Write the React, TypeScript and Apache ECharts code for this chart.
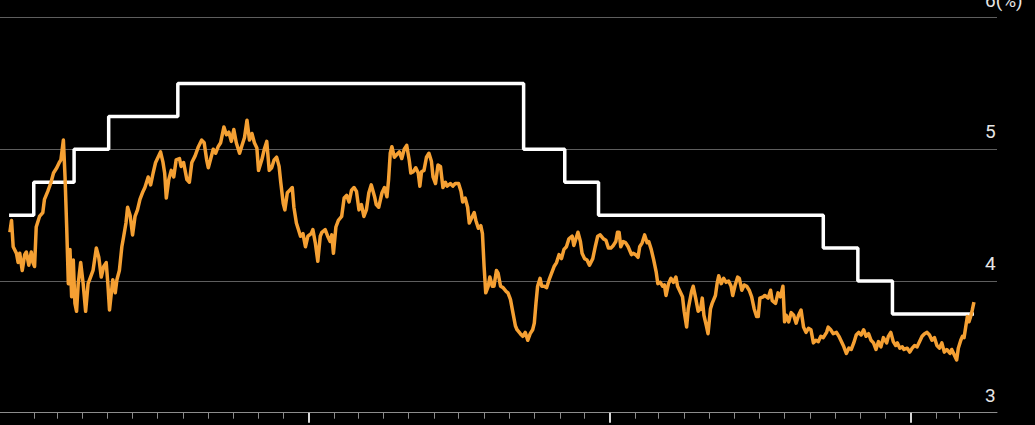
import { useEffect, useRef } from "react";
import * as echarts from "echarts";

// ---- data ----
// Policy rate (upper bound, %) with effective dates; held until the next change
const policyDates = ["2023-01-02", "2023-02-01", "2023-03-22", "2023-05-03", "2023-07-26", "2024-09-18", "2024-11-07", "2024-12-18", "2025-09-17", "2025-10-29", "2025-12-10", "2026-03-19"];
const policyRates = [4.5, 4.75, 5.0, 5.25, 5.5, 5.0, 4.75, 4.5, 4.25, 4.0, 3.75, 3.75];

// Two-year yield (%): [days since 2023-01-01, value]
const yield2023: [number, number][] = [
  [2, 4.37], [4, 4.46], [6, 4.26], [10, 4.21], [12, 4.14], [14, 4.21], [17, 4.08], [20, 4.2], [22, 4.22], [25, 4.12],
  [28, 4.22], [30, 4.14], [32, 4.11], [34, 4.41], [38, 4.49], [42, 4.52], [44, 4.62], [48, 4.68], [52, 4.75], [55, 4.82],
  [59, 4.86], [62, 4.9], [64, 4.92], [67, 5.07], [69, 4.79], [71, 4.41], [73, 3.98], [75, 4.24], [77, 3.88], [79, 4.16],
  [81, 3.83], [83, 3.77], [85, 3.98], [88, 4.14], [91, 3.98], [94, 3.77], [97, 3.98], [100, 4.03], [103, 4.08], [107, 4.25],
  [110, 4.18], [113, 4.03], [116, 4.11], [119, 4.14], [121, 3.98], [123, 3.78], [127, 4.01], [130, 3.91], [132, 4.01], [135, 4.08],
  [138, 4.26], [140, 4.33], [143, 4.44], [145, 4.56], [148, 4.5], [151, 4.35], [154, 4.49], [157, 4.54], [160, 4.62], [163, 4.67],
  [166, 4.71], [170, 4.79], [173, 4.73], [176, 4.82], [179, 4.9], [182, 4.94], [185, 4.98], [188, 4.9], [190, 4.82], [192, 4.63],
  [195, 4.77], [198, 4.84], [201, 4.79], [204, 4.92], [208, 4.93], [210, 4.87], [213, 4.9], [217, 4.77], [220, 4.75], [223, 4.9],
  [227, 4.95], [231, 5.02], [235, 5.07], [238, 5.05], [241, 4.92], [243, 4.86], [246, 4.93], [249, 5.0], [252, 4.97], [255, 5.02],
  [258, 5.05], [262, 5.17], [265, 5.11], [268, 5.13], [271, 5.06], [274, 5.15], [277, 5.05], [281, 4.97], [284, 5.03], [287, 5.09],
  [290, 5.22], [293, 5.07], [296, 5.12], [299, 5.05], [302, 5.01], [304, 4.84], [308, 4.92], [311, 5.0], [314, 5.06], [317, 4.84],
  [320, 4.86], [323, 4.92], [326, 4.94], [329, 4.87], [331, 4.75], [334, 4.59], [336, 4.54], [339, 4.67], [342, 4.69], [345, 4.71],
  [347, 4.56], [350, 4.44], [352, 4.4], [355, 4.34], [358, 4.36], [361, 4.26], [364, 4.34],
];
const yield2024: [number, number][] = [
  [368, 4.36], [370, 4.39], [373, 4.29], [376, 4.15], [379, 4.34], [381, 4.37], [385, 4.39], [388, 4.34], [391, 4.3], [393, 4.35],
  [395, 4.21], [398, 4.41], [401, 4.46], [405, 4.49], [408, 4.63], [411, 4.65], [414, 4.6], [417, 4.69], [420, 4.71], [423, 4.68],
  [426, 4.54], [429, 4.58], [432, 4.49], [435, 4.54], [438, 4.67], [441, 4.73], [445, 4.64], [447, 4.58], [450, 4.56], [454, 4.67],
  [457, 4.71], [460, 4.64], [462, 4.77], [464, 4.97], [466, 5.02], [469, 4.94], [472, 4.96], [475, 4.98], [478, 4.93], [481, 5.0],
  [484, 5.03], [487, 4.92], [489, 4.82], [492, 4.83], [495, 4.86], [498, 4.82], [500, 4.72], [502, 4.83], [505, 4.84], [508, 4.94],
  [511, 4.97], [514, 4.91], [516, 4.79], [519, 4.74], [522, 4.88], [525, 4.87], [528, 4.71], [531, 4.75], [533, 4.72], [537, 4.74],
  [540, 4.72], [543, 4.74], [547, 4.74], [550, 4.68], [552, 4.6], [555, 4.63], [558, 4.56], [560, 4.44], [563, 4.48], [566, 4.52],
  [568, 4.46], [571, 4.4], [574, 4.42], [576, 4.36], [578, 4.11], [580, 3.91], [583, 3.96], [585, 4.03], [588, 3.96], [590, 3.96],
  [593, 4.08], [595, 4.06], [598, 3.96], [601, 3.95], [605, 3.92], [607, 3.91], [610, 3.86], [613, 3.76], [616, 3.66], [618, 3.63],
  [622, 3.6], [625, 3.58], [628, 3.61], [631, 3.55], [634, 3.6], [637, 3.63], [639, 3.68], [641, 3.83], [643, 3.96], [646, 4.02],
  [648, 3.96], [651, 3.96], [654, 3.95], [657, 4.01], [660, 4.06], [663, 4.11], [666, 4.14], [669, 4.2], [672, 4.17], [675, 4.24],
  [678, 4.26], [681, 4.32], [685, 4.34], [687, 4.27], [689, 4.31], [692, 4.37], [695, 4.3], [697, 4.21], [700, 4.17], [703, 4.16],
  [706, 4.12], [710, 4.17], [713, 4.26], [716, 4.34], [719, 4.35], [723, 4.32], [726, 4.31], [729, 4.25],
];
const yield2025: [number, number][] = [
  [732, 4.25], [735, 4.27], [738, 4.3], [740, 4.37], [742, 4.37], [744, 4.26], [747, 4.3], [750, 4.29], [753, 4.26], [757, 4.2],
  [759, 4.21], [762, 4.2], [765, 4.18], [767, 4.26], [770, 4.29], [773, 4.35], [776, 4.29], [778, 4.3], [781, 4.24], [784, 4.16],
  [787, 4.07], [789, 3.98], [792, 3.99], [795, 3.96], [797, 3.97], [799, 3.89], [802, 3.98], [805, 4.02], [808, 3.99], [811, 4.03],
  [813, 3.96], [816, 3.92], [819, 3.88], [821, 3.77], [824, 3.65], [826, 3.79], [830, 3.92], [832, 3.96], [835, 3.87], [838, 3.77],
  [841, 3.79], [843, 3.87], [845, 3.74], [848, 3.66], [850, 3.6], [853, 3.79], [855, 3.83], [859, 3.89], [861, 3.98], [863, 4.04],
  [866, 3.98], [869, 4.02], [872, 3.99], [875, 4.0], [878, 3.96], [880, 3.89], [883, 3.97], [886, 4.03], [888, 4.02], [891, 3.93],
  [894, 3.97], [897, 3.96], [900, 3.93], [903, 3.88], [906, 3.79], [909, 3.73], [911, 3.73], [913, 3.87], [917, 3.88], [919, 3.89],
  [923, 3.87], [926, 3.93], [928, 3.85], [932, 3.83], [935, 3.91], [938, 3.88], [941, 3.96], [943, 3.69], [945, 3.74], [948, 3.69],
  [951, 3.76], [954, 3.74], [957, 3.68], [960, 3.74], [963, 3.78], [966, 3.65], [969, 3.61], [972, 3.64], [975, 3.63], [978, 3.53],
  [981, 3.55], [984, 3.54], [987, 3.58], [990, 3.57], [994, 3.61], [996, 3.65], [999, 3.63], [1002, 3.6], [1006, 3.61], [1009, 3.58],
  [1012, 3.54], [1015, 3.5], [1018, 3.45], [1021, 3.49], [1024, 3.48], [1027, 3.53], [1030, 3.59], [1033, 3.61], [1036, 3.59], [1039, 3.63],
  [1042, 3.58], [1045, 3.6], [1048, 3.55], [1051, 3.53], [1054, 3.48], [1057, 3.54], [1060, 3.5], [1063, 3.57], [1067, 3.53], [1069, 3.58],
  [1072, 3.61], [1075, 3.54], [1078, 3.51], [1080, 3.53], [1083, 3.49], [1086, 3.5], [1088, 3.48], [1092, 3.49], [1095, 3.46],
];
const yield2026: [number, number][] = [
  [1098, 3.49], [1101, 3.51], [1104, 3.5], [1107, 3.54], [1110, 3.58], [1113, 3.6], [1116, 3.61], [1119, 3.59], [1122, 3.55], [1125, 3.57],
  [1128, 3.51], [1131, 3.49], [1134, 3.53], [1137, 3.46], [1140, 3.48], [1144, 3.45], [1146, 3.48], [1149, 3.44], [1152, 3.4], [1154, 3.49],
  [1157, 3.55], [1159, 3.58], [1161, 3.57], [1163, 3.65], [1165, 3.73], [1167, 3.69], [1169, 3.73], [1171, 3.78], [1173, 3.84],
];

// axis
const axisStartDate = "2022-12-22";
const axisEndDate = "2026-04-16";
const firstTickMonth = [2023, 1]; // Feb 2023 (year, zero-based month)
const lastTickMonth = [2026, 2]; // Mar 2026
const yearTickDates = ["2024-01-01", "2025-01-01", "2026-01-01"];
const yTicks = [3, 4, 5, 6];
const yUnitLabel = "6(%)";

const ORIGIN = Date.UTC(2023, 0, 1);
const DAY_MS = 86400000;
const toDay = (s: string) => (Date.parse(s) - ORIGIN) / DAY_MS;

function monthTickDays(): number[] {
  const out: number[] = [];
  let [y, m] = firstTickMonth;
  while (y < lastTickMonth[0] || (y === lastTickMonth[0] && m <= lastTickMonth[1])) {
    out.push((Date.UTC(y, m, 1) - ORIGIN) / DAY_MS);
    m++;
    if (m > 11) { m = 0; y++; }
  }
  return out;
}

export default function App() {
  const ref = useRef<HTMLDivElement>(null);
  useEffect(() => {
    if (!ref.current) return;
    const chart = echarts.init(ref.current, null, { renderer: "svg" });
    const xMin = toDay(axisStartDate);
    const xMax = toDay(axisEndDate);
    const policyData = policyDates.map((d, i) => [toDay(d), policyRates[i]]);
    const yieldData = [...yield2023, ...yield2024, ...yield2025, ...yield2026];
    const font = "Roboto, 'Liberation Sans', sans-serif";
    chart.setOption({
      animation: false,
      backgroundColor: "#000000",
      grid: { left: 0, right: 38, top: 17.6, bottom: 12.3, containLabel: false, outerBoundsMode: "none" },
      xAxis: [
        {
          type: "value",
          position: "bottom",
          min: xMin,
          max: xMax,
          axisLine: { show: true, lineStyle: { color: "#8c8c8c", width: 1 } },
          axisTick: { show: true, customValues: monthTickDays(), length: 6, lineStyle: { color: "#8c8c8c", width: 1 } },
          axisLabel: { show: false },
          splitLine: { show: false },
        },
        {
          type: "value",
          position: "bottom",
          min: xMin,
          max: xMax,
          axisLine: { show: false },
          axisTick: { show: true, customValues: yearTickDates.map(toDay), length: 10, lineStyle: { color: "#d8d8d8", width: 2 } },
          axisLabel: { show: false },
          splitLine: { show: false },
        },
      ],
      yAxis: {
        type: "value",
        position: "right",
        min: yTicks[0],
        max: yTicks[yTicks.length - 1],
        interval: 1,
        axisLine: { show: false },
        axisTick: { show: false },
        splitLine: { show: true, lineStyle: { color: "#5e5e5e", width: 1 } },
        axisLabel: {
          show: true,
          margin: -12,
          align: "left",
          verticalAlign: "bottom",
          padding: [0, 0, 8, 0],
          color: "#e6e6e6",
          fontSize: 19,
          fontFamily: font,
          formatter: (v: number) => (v === yTicks[yTicks.length - 1] ? yUnitLabel : String(v)),
        },
      },
      series: [
        {
          name: "Policy rate",
          type: "line",
          step: "end",
          data: policyData,
          showSymbol: false,
          lineStyle: { color: "#ffffff", width: 3.5 },
          z: 2,
        },
        {
          name: "Two-year yield",
          type: "line",
          data: yieldData,
          showSymbol: false,
          lineStyle: { color: "#f5a033", width: 3.5, join: "round" },
          z: 3,
        },
      ],
    });
    return () => chart.dispose();
  }, []);
  return (
    <div
      ref={ref}
      style={{ position: "fixed", left: 0, top: 0, width: 1035, height: 425, background: "#000" }}
    />
  );
}
